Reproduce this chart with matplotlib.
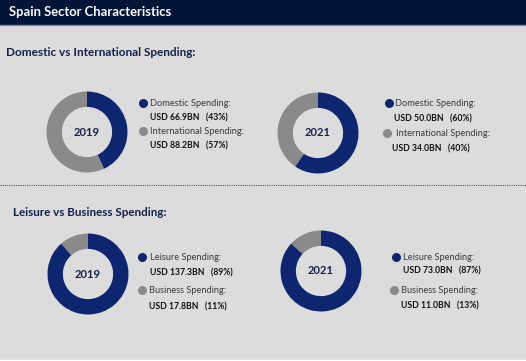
import matplotlib
matplotlib.use("Agg")
import matplotlib.pyplot as plt
from matplotlib.patches import Rectangle

plt.rcParams['font.family'] = ['Lato', 'DejaVu Sans']

# data
years = ['2019', '2021']
domestic = [66.9, 50.0]
international = [88.2, 34.0]
domestic_pct = [43, 60]
international_pct = [57, 40]
leisure = [137.3, 73.0]
business = [17.8, 11.0]
leisure_pct = [89, 87]
business_pct = [11, 13]

W, H = 526, 361
navy = '#0e2570'
grey = '#8a8a8a'
dark = '#14224a'

fig = plt.figure(figsize=(W / 100, H / 100), dpi=100)
fig.patch.set_facecolor('#dcdcdc')
ax = fig.add_axes([0, 0, 1, 1])
ax.set_xlim(0, W)
ax.set_ylim(H, 0)
ax.axis('off')

# header bar
ax.add_patch(Rectangle((0, 0), W, 24, color='#021539', zorder=1))
ax.plot([0, W], [24.5, 24.5], color='#7d8aa3', lw=1, zorder=2)
ax.text(9, 12.5, 'Spain Sector Characteristics', color='white', fontsize=9.4,
        fontweight='bold', va='center', ha='left')
ax.add_patch(Rectangle((0, 359.5), W, 2, color='white', zorder=1))

ax.text(6, 52, 'Domestic vs International Spending:', color=dark, fontsize=8.5,
        fontweight='bold', va='center')
ax.text(13, 213, 'Leisure vs Business Spending:', color=dark, fontsize=8.4,
        fontweight='bold', va='center')

# dotted separator
ax.plot([0, W], [185, 185], color='#555555', lw=0.8, ls=(0, (1, 1)))


def donut(cx, cy, vals, year, r=40.5):
    a = fig.add_axes([(cx - r) / W, (H - cy - r) / H, 2 * r / W, 2 * r / H])
    a.pie(vals, colors=[navy, grey], startangle=90, counterclock=False,
          wedgeprops=dict(width=0.38, linewidth=0))
    a.set_xlim(-1, 1)
    a.set_ylim(-1, 1)
    a.set_aspect('auto')
    a.text(0, 0, year, ha='center', va='center', fontsize=8, fontweight='bold',
           color=dark)


def legend_entry(mx, my, tx, label, value_text, vx, vy, color):
    ax.plot(mx, my, 'o', ms=6.5, color=color, mec='none')
    ax.text(tx, my + 0.5, label, fontsize=6.7, color='#3a3a3a', va='center')
    ax.text(vx, vy, value_text, fontsize=6.2, color='#111111', va='center',
            fontweight='bold')


# domestic vs international
donut(87, 132, [domestic[0], international[0]], years[0])
donut(318, 133, [domestic[1], international[1]], years[1])

legend_entry(143, 103, 150, 'Domestic Spending:',
             f'USD {domestic[0]:.1f}BN   ({domestic_pct[0]}%)', 150, 118, navy)
legend_entry(143, 131, 150, 'International Spending:',
             f'USD {international[0]:.1f}BN   ({international_pct[0]}%)', 150, 146, grey)
legend_entry(389, 103, 395, 'Domestic Spending:',
             f'USD {domestic[1]:.1f}BN   ({domestic_pct[1]}%)', 394, 119, navy)
legend_entry(387, 133, 396, 'International Spending:',
             f'USD {international[1]:.1f}BN   ({international_pct[1]}%)', 392, 149, grey)

# leisure vs business
donut(88, 274, [leisure[0], business[0]], years[0])
donut(321, 271, [leisure[1], business[1]], years[1])

legend_entry(142, 257, 150, 'Leisure Spending:',
             f'USD {leisure[0]:.1f}BN   ({leisure_pct[0]}%)', 150, 273, navy)
legend_entry(142, 290, 149, 'Business Spending:',
             f'USD {business[0]:.1f}BN   ({business_pct[0]}%)', 149, 307, grey)
legend_entry(396, 257, 403, 'Leisure Spending:',
             f'USD {leisure[1]:.1f}BN   ({leisure_pct[1]}%)', 403, 271, navy)
legend_entry(394, 290, 401, 'Business Spending:',
             f'USD {business[1]:.1f}BN   ({business_pct[1]}%)', 401, 306, grey)

fig.savefig('out.png', dpi=100, facecolor=fig.get_facecolor())
